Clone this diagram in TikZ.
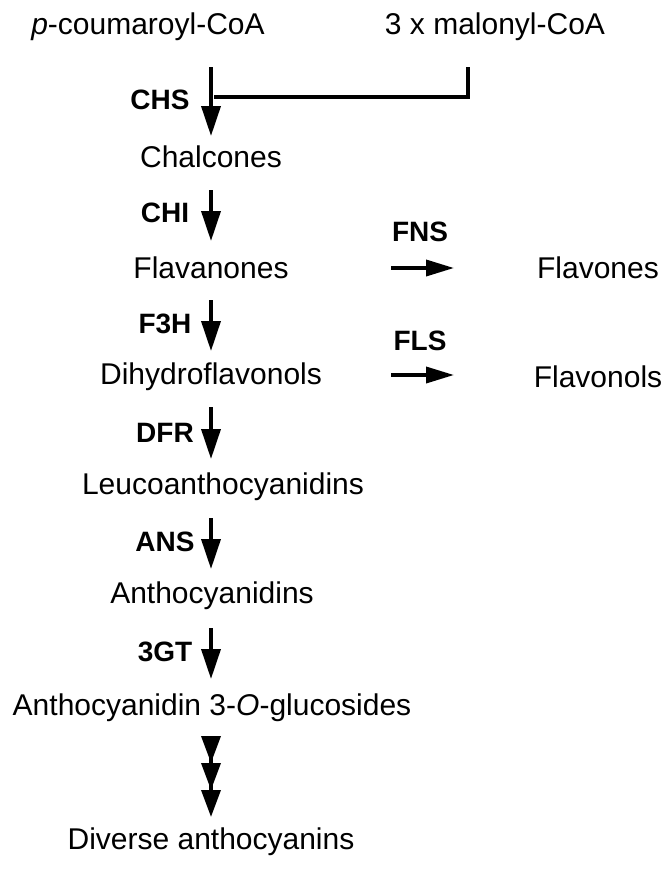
\documentclass[tikz,border=0pt]{standalone}
\usepackage{fontspec}
\setmainfont{Liberation Sans}
\usetikzlibrary{arrows.meta}
\tikzset{
	cmpd/.style={font=\fontsize{30}{34}\selectfont, inner sep=2pt},
	enz/.style={font=\fontsize{28}{32}\selectfont\bfseries, inner sep=1pt},
	step arrow/.style={line width=3.6pt, -{Triangle[width=19pt,length=30pt]}},
}
\begin{document}
\begin{tikzpicture}[x=1pt,y=-1pt]
\useasboundingbox (0,0) rectangle (671,873);

\node[cmpd](pc) at(148,27){\textit{p}-coumaroyl-CoA};
\node[cmpd](mc) at(495,27){3 x malonyl-CoA};
\node[cmpd](chal) at(211,157){Chalcones};
\node[cmpd](flan) at(211,268){Flavanones};
\node[cmpd](dhf) at(211,377){Dihydroflavonols};
\node[cmpd](leuco) at(223,487){Leucoanthocyanidins};
\node[cmpd](antho) at(212,596){Anthocyanidins};
\node[cmpd](glc) at(212,708){Anthocyanidin 3-\textit{O}-glucosides};
\node[cmpd](div) at(211,842){Diverse anthocyanins};
\node[cmpd](flavones) at(598,268){Flavones};
\node[cmpd](flavonols) at(598,377){Flavonols};

\coordinate(s1) at(211,67);
\coordinate(e1) at(211,136);
\coordinate(m1) at(468,67);
\coordinate(m2) at(468,97);
\coordinate(m3) at(214,97);

\draw[step arrow] (s1) -- (e1);
\draw[line width=3.6pt] (m1) -- (m2) -- (m3);

\foreach \y/\e/\u/\v in {
	213/CHI/190/241,324/F3H/300/351,433/DFR/407/459,%
	542/ANS/518/569,652/3GT/628/679%
}{
	\coordinate(a\e) at(211,\u);
	\coordinate(b\e) at(211,\v);
	\draw[step arrow] (a\e) -- (b\e);
	\node[enz](l\e) at(165,\y){\e};
}
\node[enz](lCHS) at(160,100){CHS};

\foreach \y/\e/\l in {268/FNS/232,375/FLS/341}{
	\coordinate(a\e) at(391,\y);
	\coordinate(b\e) at(454,\y);
	\draw[line width=3.6pt, -{Triangle[width=16pt,length=28pt]}] (a\e) -- (b\e);
	\node[enz](l\e) at(420,\l){\e};
}

\coordinate(t1) at(211,738);
\coordinate(t2) at(211,817);
\draw[line width=3.6pt, -{Triangle[width=19pt,length=27pt]Triangle[width=19pt,length=27pt]Triangle[width=19pt,length=27pt]}] (t1) -- (t2);

\end{tikzpicture}
\end{document}
